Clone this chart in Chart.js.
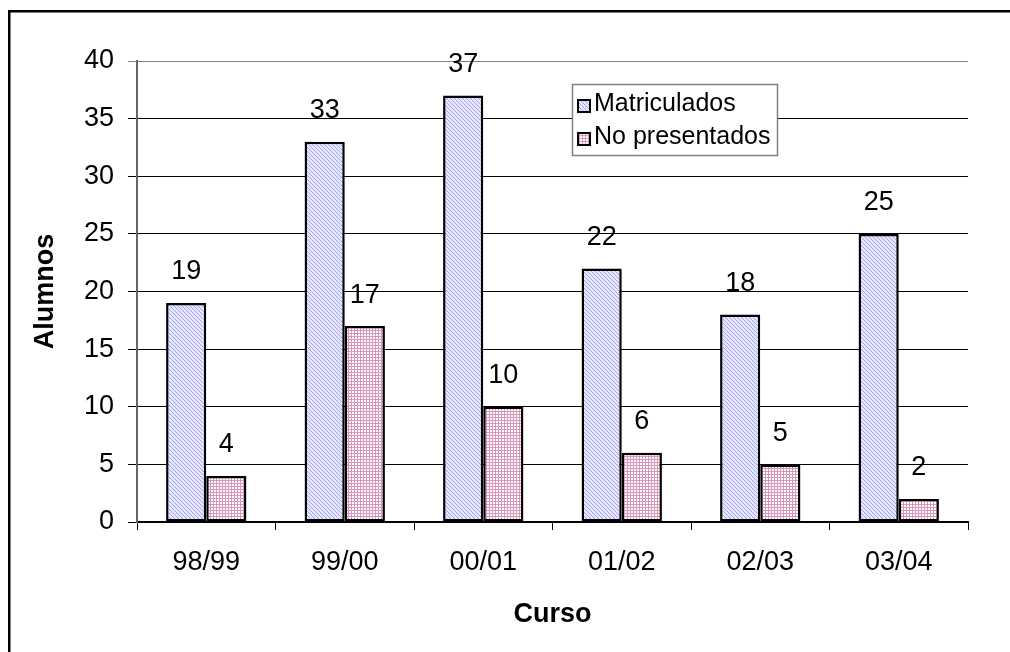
<!DOCTYPE html>
<html>
<head>
<meta charset="utf-8">
<script src="https://cdn.jsdelivr.net/npm/chart.js@4/dist/chart.umd.min.js"></script>
<style>
body{margin:0;background:#fff;}
#wrap{width:1010px;height:652px;}
</style>
</head>
<body>
<div id="wrap"><canvas id="chart" width="1010" height="652"></canvas></div>
<script>
let cursos = ["98/99","99/00","00/01","01/02","02/03","03/04"];
let matriculados = [19,33,37,22,18,25];
let noPresentados = [4,17,10,6,5,2];
let yTicks = [0,5,10,15,20,25,30,35,40];

function makePattern(size, painter){
    let c = document.createElement("canvas");
    c.width = size;
    c.height = size;
    let g = c.getContext("2d");
    painter(g);
    return document.getElementById("chart").getContext("2d").createPattern(c, "repeat");
}

// blue diagonal hatch
let bluePattern = makePattern(4, function(g){
    g.fillStyle = "#e6e6ff";
    g.fillRect(0,0,4,4);
    g.fillStyle = "#a4a4f6";
    for(let i=0;i<4;i++){
        g.fillRect(i,i,1,1);
    }
});

// pink grid
let pinkPattern = makePattern(3, function(g){
    g.fillStyle = "#ffffff";
    g.fillRect(0,0,3,3);
    g.fillStyle = "#dc95ba";
    g.fillRect(0,0,3,1);
    g.fillRect(0,0,1,3);
});

let frame = {
    id:"frame",
    beforeDraw(chart){
        let ctx = chart.ctx;
        ctx.save();
        ctx.fillStyle = "#fff";
        ctx.fillRect(0,0,chart.width,chart.height);
        ctx.strokeStyle = "#000";
        ctx.lineWidth = 2.5;
        ctx.beginPath();
        ctx.moveTo(9.25,700);
        ctx.lineTo(9.25,11.25);
        ctx.lineTo(1010,11.25);
        ctx.stroke();
        ctx.restore();
    }
};

let valueLabels = {
    id:"valueLabels",
    afterDatasetsDraw(chart){
        let ctx = chart.ctx;
        ctx.save();
        ctx.font = "27px 'Liberation Sans', Arial, sans-serif";
        ctx.fillStyle = "#000";
        ctx.textAlign = "center";
        ctx.textBaseline = "middle";
        chart.data.datasets.forEach((ds, i) => {
            chart.getDatasetMeta(i).data.forEach((bar, j) => {
                ctx.fillText(ds.data[j], bar.x, bar.y - 31);
            });
        });
        ctx.restore();
    }
};

let boxLegend = {
    id:"boxLegend",
    afterDraw(chart){
        let ctx = chart.ctx;
        ctx.save();
        ctx.fillStyle = "#fff";
        ctx.fillRect(572,84,206,72);
        ctx.strokeStyle = "#808080";
        ctx.lineWidth = 1.5;
        ctx.strokeRect(572.5,84.5,205,71);
        ctx.font = "25px 'Liberation Sans', Arial, sans-serif";
        ctx.textBaseline = "alphabetic";
        ctx.textAlign = "left";
        chart.data.datasets.forEach((ds, i) => {
            let y = 100 + i * 33;
            ctx.fillStyle = ds.backgroundColor;
            ctx.fillRect(578,y,12,12);
            ctx.strokeStyle = "#000";
            ctx.lineWidth = 2;
            ctx.strokeRect(578,y,12,12);
            ctx.fillStyle = "#000";
            ctx.fillText(ds.label, 594, y + 11);
        });
        ctx.restore();
    }
};

new Chart(
document.getElementById("chart"),
{
    type:"bar",
    data:{
        labels:cursos,
        datasets:[
        {
            label:"Matriculados",
            data:matriculados,
            backgroundColor:bluePattern,
            borderColor:"#000",
            borderWidth:2.5,
            borderSkipped:false
        },
        {
            label:"No presentados",
            data:noPresentados,
            backgroundColor:pinkPattern,
            borderColor:"#000",
            borderWidth:2.5,
            borderSkipped:false
        }
        ]
    },
    options:{
        responsive:false,
        animation:false,
        events:[],
        layout:{
            padding:{left:0,top:61,right:42,bottom:0}
        },
        datasets:{
            bar:{
                categoryPercentage:0.58,
                barPercentage:1
            }
        },
        plugins:{
            legend:{display:false},
            tooltip:{enabled:false}
        },
        scales:{
            x:{
                grid:{
                    offset:true,
                    drawOnChartArea:false,
                    drawTicks:true,
                    tickLength:8,
                    color:"#000",
                    lineWidth:1
                },
                border:{color:"#000",width:2},
                ticks:{
                    color:"#000",
                    padding:16,
                    font:{family:"'Liberation Sans', Arial, sans-serif",size:27}
                },
                title:{
                    display:true,
                    text:"Curso",
                    color:"#000",
                    padding:{top:0,bottom:21},
                    font:{family:"'Liberation Sans', Arial, sans-serif",size:27,weight:"bold"}
                },
                afterFit(scale){
                    scale.height = 130;
                }
            },
            y:{
                min:0,
                max:40,
                afterBuildTicks(scale){
                    scale.ticks = yTicks.map(v => ({value:v}));
                },
                grid:{
                    drawTicks:true,
                    tickLength:9,
                    color:(c) => c.tick && c.tick.value === 40 ? "#808080" : "#000",
                    lineWidth:1
                },
                border:{color:"#666",width:2},
                ticks:{
                    color:"#000",
                    padding:14,
                    font:{family:"'Liberation Sans', Arial, sans-serif",size:27}
                },
                title:{
                    display:true,
                    text:"Alumnos",
                    color:"#000",
                    padding:{top:29,bottom:0},
                    font:{family:"'Liberation Sans', Arial, sans-serif",size:27,weight:"bold"}
                },
                afterFit(scale){
                    scale.width = 137;
                }
            }
        }
    },
    plugins:[frame,valueLabels,boxLegend]
});
</script>
</body>
</html>
